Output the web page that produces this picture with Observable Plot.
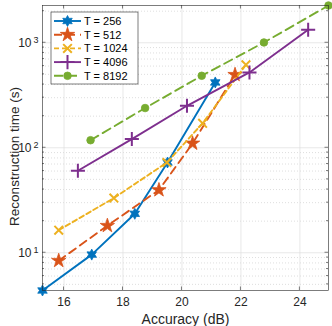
<!DOCTYPE html>
<html><head><meta charset="utf-8">
<script src="https://cdn.jsdelivr.net/npm/d3@7"></script>
<script src="https://cdn.jsdelivr.net/npm/@observablehq/plot@0.6"></script>
<style>
body{margin:0;background:#fff}
#chart{position:relative;width:332px;height:326px}
</style>
</head><body><div id="chart"></div>
<script>
// ---- data ----
const seriesLabels = ["T = 256", "T = 512", "T = 1024", "T = 4096", "T = 8192"];
const accuracy256  = [15.27, 16.94, 18.40, 19.51, 21.13];
const time256      = [4.37, 9.6, 23.5, 72.4, 419];
const accuracy512  = [15.82, 17.47, 19.22, 20.36, 21.80];
const time512      = [8.4, 18.1, 39.6, 110, 496];
const accuracy1024 = [15.82, 17.69, 19.49, 20.70, 22.17];
const time1024     = [16.4, 33.2, 72.4, 171, 617];
const accuracy4096 = [16.47, 18.30, 20.17, 22.29, 24.28];
const time4096     = [60.4, 121, 251, 522, 1330];
const accuracy8192 = [16.90, 18.75, 20.67, 22.78, 24.97];
const time8192     = [118, 239, 485, 1007, 2265];
const xTicks = [16, 18, 20, 22, 24];
const yTicks = [10, 100, 1000];
const yMinor = [5, 6, 7, 8, 9, 20, 30, 40, 50, 60, 70, 80, 90, 200, 300, 400, 500, 600, 700, 800, 900, 2000];
const xDomain = [15.27, 24.97];
const yDomain = [4.37, 2265];
const xLabel = "Accuracy (dB)";
const yLabel = "Reconstruction time (s)";

// ---- styles ----
const colors = ["#0072BD", "#D95319", "#EDB120", "#7E2F8E", "#77AC30"];
const dashes = [null, "8,5", "5,3", null, "9,5"];

const hexagram = {
  draw(ctx, size) {
    const R = Math.sqrt(size / Math.PI) * 1.25, r = R * 0.55;
    for (let k = 0; k < 12; k++) {
      const a = -Math.PI / 2 + k * Math.PI / 6, rr = k % 2 ? r : R;
      const px = rr * Math.cos(a), py = rr * Math.sin(a);
      k ? ctx.lineTo(px, py) : ctx.moveTo(px, py);
    }
    ctx.closePath();
  }
};
const markers = [
  {symbol: hexagram, fill: true, r: 4.4},
  {symbol: "star", fill: true, r: 4.5},
  {symbol: "times", fill: false, r: 4.0},
  {symbol: "plus", fill: false, r: 4.6},
  {symbol: "circle", fill: true, r: 3.8}
];

const accs = [accuracy256, accuracy512, accuracy1024, accuracy4096, accuracy8192];
const times = [time256, time512, time1024, time4096, time8192];
const seriesRows = seriesLabels.map((s, i) => accs[i].map((a, j) => ({series: s, x: a, y: times[i][j]})));

const seriesMarks = [];
seriesRows.forEach((rows, i) => {
  const m = markers[i];
  seriesMarks.push(
    Plot.line(rows, {x: "x", y: "y", stroke: colors[i], strokeWidth: 1.9,
      strokeDasharray: dashes[i] || undefined}),
    Plot.dot(rows, {x: "x", y: "y", symbol: () => m.symbol, r: m.r,
      fill: m.fill ? colors[i] : "none", stroke: colors[i], strokeWidth: m.fill ? 0.8 : 2})
  );
});

const plot = Plot.plot({
  width: 332, height: 326,
  marginLeft: 42, marginRight: 4, marginTop: 5, marginBottom: 36,
  style: {fontFamily: "'Liberation Sans', Arial, sans-serif", fontSize: "12px", color: "#262626", background: "#fff"},
  x: {domain: xDomain},
  y: {type: "log", domain: yDomain},
  marks: [
    Plot.ruleY(yMinor, {stroke: "#c8c8c8", strokeWidth: 0.6, strokeDasharray: "1,2"}),
    Plot.ruleY(yTicks, {stroke: "#dedede", strokeWidth: 0.7}),
    Plot.ruleX(xTicks, {stroke: "#dedede", strokeWidth: 0.7}),
    ...seriesMarks,
    Plot.frame({stroke: "#262626", strokeWidth: 0.6}),
    Plot.axisX(xTicks, {tickSize: 0, tickPadding: 7, tickFormat: d => String(d), fontSize: 12,
      label: xLabel, labelAnchor: "center", labelArrow: "none", labelOffset: 33}),
    Plot.axisY(yTicks, {tickSize: 0, tickPadding: 4, tickFormat: d => "10|" + Math.round(Math.log10(d)), fontSize: 12,
      label: null})
  ]
});
document.getElementById("chart").appendChild(plot);

const svg = d3.select(plot);
// superscript exponents on y tick labels
svg.selectAll('g[aria-label="y-axis tick label"] text').each(function () {
  const t = d3.select(this);
  const parts = t.text().split("|");
  if (parts.length === 2) {
    t.text(parts[0]);
    t.append("tspan").attr("dy", "-0.45em").attr("dx", "2").attr("font-size", "9px").text(parts[1]);
  }
});
svg.selectAll('g[aria-label="x-axis label"] text').attr("font-size", "14px");

// scales from the plot
const xs = plot.scale("x"), ys = plot.scale("y");
const xf = xs.apply ? v => xs.apply(v) : d3.scaleLinear(xs.domain, xs.range);
const yf = ys.apply ? v => ys.apply(v) : d3.scaleLog(ys.domain, ys.range);
const [L, R] = [xf(xDomain[0]), xf(xDomain[1])];
const [B, T] = [yf(yDomain[0]), yf(yDomain[1])];

// y axis label
svg.append("text").attr("transform", `translate(18.5,${(B + T) / 2 + 9}) rotate(-90)`)
  .attr("text-anchor", "middle").attr("font-size", "13.5px").attr("fill", "#262626")
  .attr("font-family", "'Liberation Sans', Arial, sans-serif").text(yLabel);

// inward ticks on all sides
const tg = svg.append("g").attr("stroke", "#262626").attr("stroke-width", 0.6);
xTicks.forEach(v => {
  const px = xf(v);
  tg.append("line").attr("x1", px).attr("x2", px).attr("y1", B).attr("y2", B - 3.5);
  tg.append("line").attr("x1", px).attr("x2", px).attr("y1", T).attr("y2", T + 3.5);
});
yTicks.forEach(v => {
  const py = yf(v);
  tg.append("line").attr("x1", L).attr("x2", L + 3.5).attr("y1", py).attr("y2", py);
  tg.append("line").attr("x1", R).attr("x2", R - 3.5).attr("y1", py).attr("y2", py);
});
yMinor.forEach(v => {
  const py = yf(v);
  tg.append("line").attr("x1", L).attr("x2", L + 2).attr("y1", py).attr("y2", py);
  tg.append("line").attr("x1", R).attr("x2", R - 2).attr("y1", py).attr("y2", py);
});

// legend inside top-left
const lg = svg.append("g").attr("font-family", "'Liberation Sans', Arial, sans-serif")
  .attr("font-size", "11px").attr("text-anchor", "start");
lg.append("rect").attr("x", 51).attr("y", 12).attr("width", 87).attr("height", 72)
  .attr("fill", "#fff").attr("stroke", "#262626").attr("stroke-width", 0.6);
seriesLabels.forEach((s, i) => {
  const cy = 21 + i * 13.7;
  lg.append("line").attr("x1", 54).attr("x2", 81).attr("y1", cy).attr("y2", cy)
    .attr("stroke", colors[i]).attr("stroke-width", 1.9).attr("stroke-dasharray", dashes[i]);
  const m = markers[i];
  const symType = typeof m.symbol === "string"
    ? {star: d3.symbolStar, times: d3.symbolTimes, plus: d3.symbolPlus, circle: d3.symbolCircle}[m.symbol]
    : m.symbol;
  lg.append("path").attr("transform", `translate(67.5,${cy})`)
    .attr("d", d3.symbol(symType, Math.PI * m.r * m.r)())
    .attr("fill", m.fill ? colors[i] : "none").attr("stroke", colors[i]).attr("stroke-width", m.fill ? 0.8 : 2);
  lg.append("text").attr("x", 84).attr("y", cy).attr("dy", "0.36em").attr("text-anchor", "start")
    .attr("fill", "#000").text(s);
});
</script>
</body></html>
